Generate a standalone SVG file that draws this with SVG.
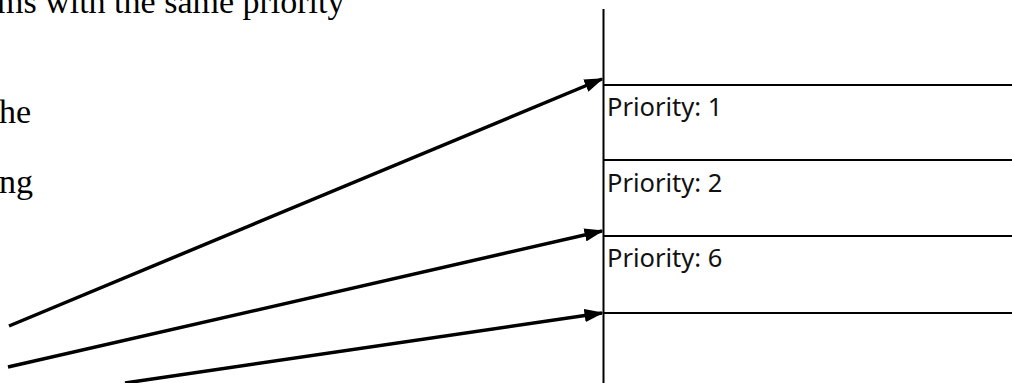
<svg xmlns="http://www.w3.org/2000/svg" width="1012" height="383" viewBox="0 0 1012 383">
<style>
.body{font-family:"Liberation Serif","Times New Roman",serif;font-size:34px;fill:#000}
.lbl{font-family:"Noto Sans","Open Sans",sans-serif;font-size:25.5px;fill:#111}
.box{stroke:#000;stroke-width:2;fill:none}
.arr{stroke:#000;stroke-width:3.5;fill:none;marker-end:url(#ah)}
</style>
<defs>
<marker id="ah" markerWidth="5.5" markerHeight="3.8" refX="5" refY="1.9" orient="auto" markerUnits="strokeWidth">
<path d="M0,0 L5.5,1.9 L0,3.8 Z" fill="#000"/>
</marker>
</defs>
<rect width="1012" height="383" fill="#fff"/>
<g id="text">
<text class="body" x="-3" y="13">ms with the same priority</text>
<text class="body" x="-1" y="123">he</text>
<text class="body" x="-1" y="193">ng</text>
</g>
<g id="queue">
<line class="box" x1="603.5" y1="9" x2="603.5" y2="383"/>
<line class="box" x1="603" y1="85" x2="1012" y2="85"/>
<line class="box" x1="603" y1="160" x2="1012" y2="160"/>
<line class="box" x1="603" y1="236" x2="1012" y2="236"/>
<line class="box" x1="603" y1="313" x2="1012" y2="313"/>
</g>
<g id="node-p1"><text class="lbl" x="607" y="116">Priority: 1</text></g>
<g id="node-p2"><text class="lbl" x="607" y="192">Priority: 2</text></g>
<g id="node-p6"><text class="lbl" x="607" y="267">Priority: 6</text></g>
<g id="connectors">
<line class="arr" x1="9" y1="326" x2="602" y2="79"/>
<line class="arr" x1="8" y1="367" x2="602" y2="231"/>
<line class="arr" x1="125" y1="383" x2="602" y2="313"/>
</g>
</svg>
